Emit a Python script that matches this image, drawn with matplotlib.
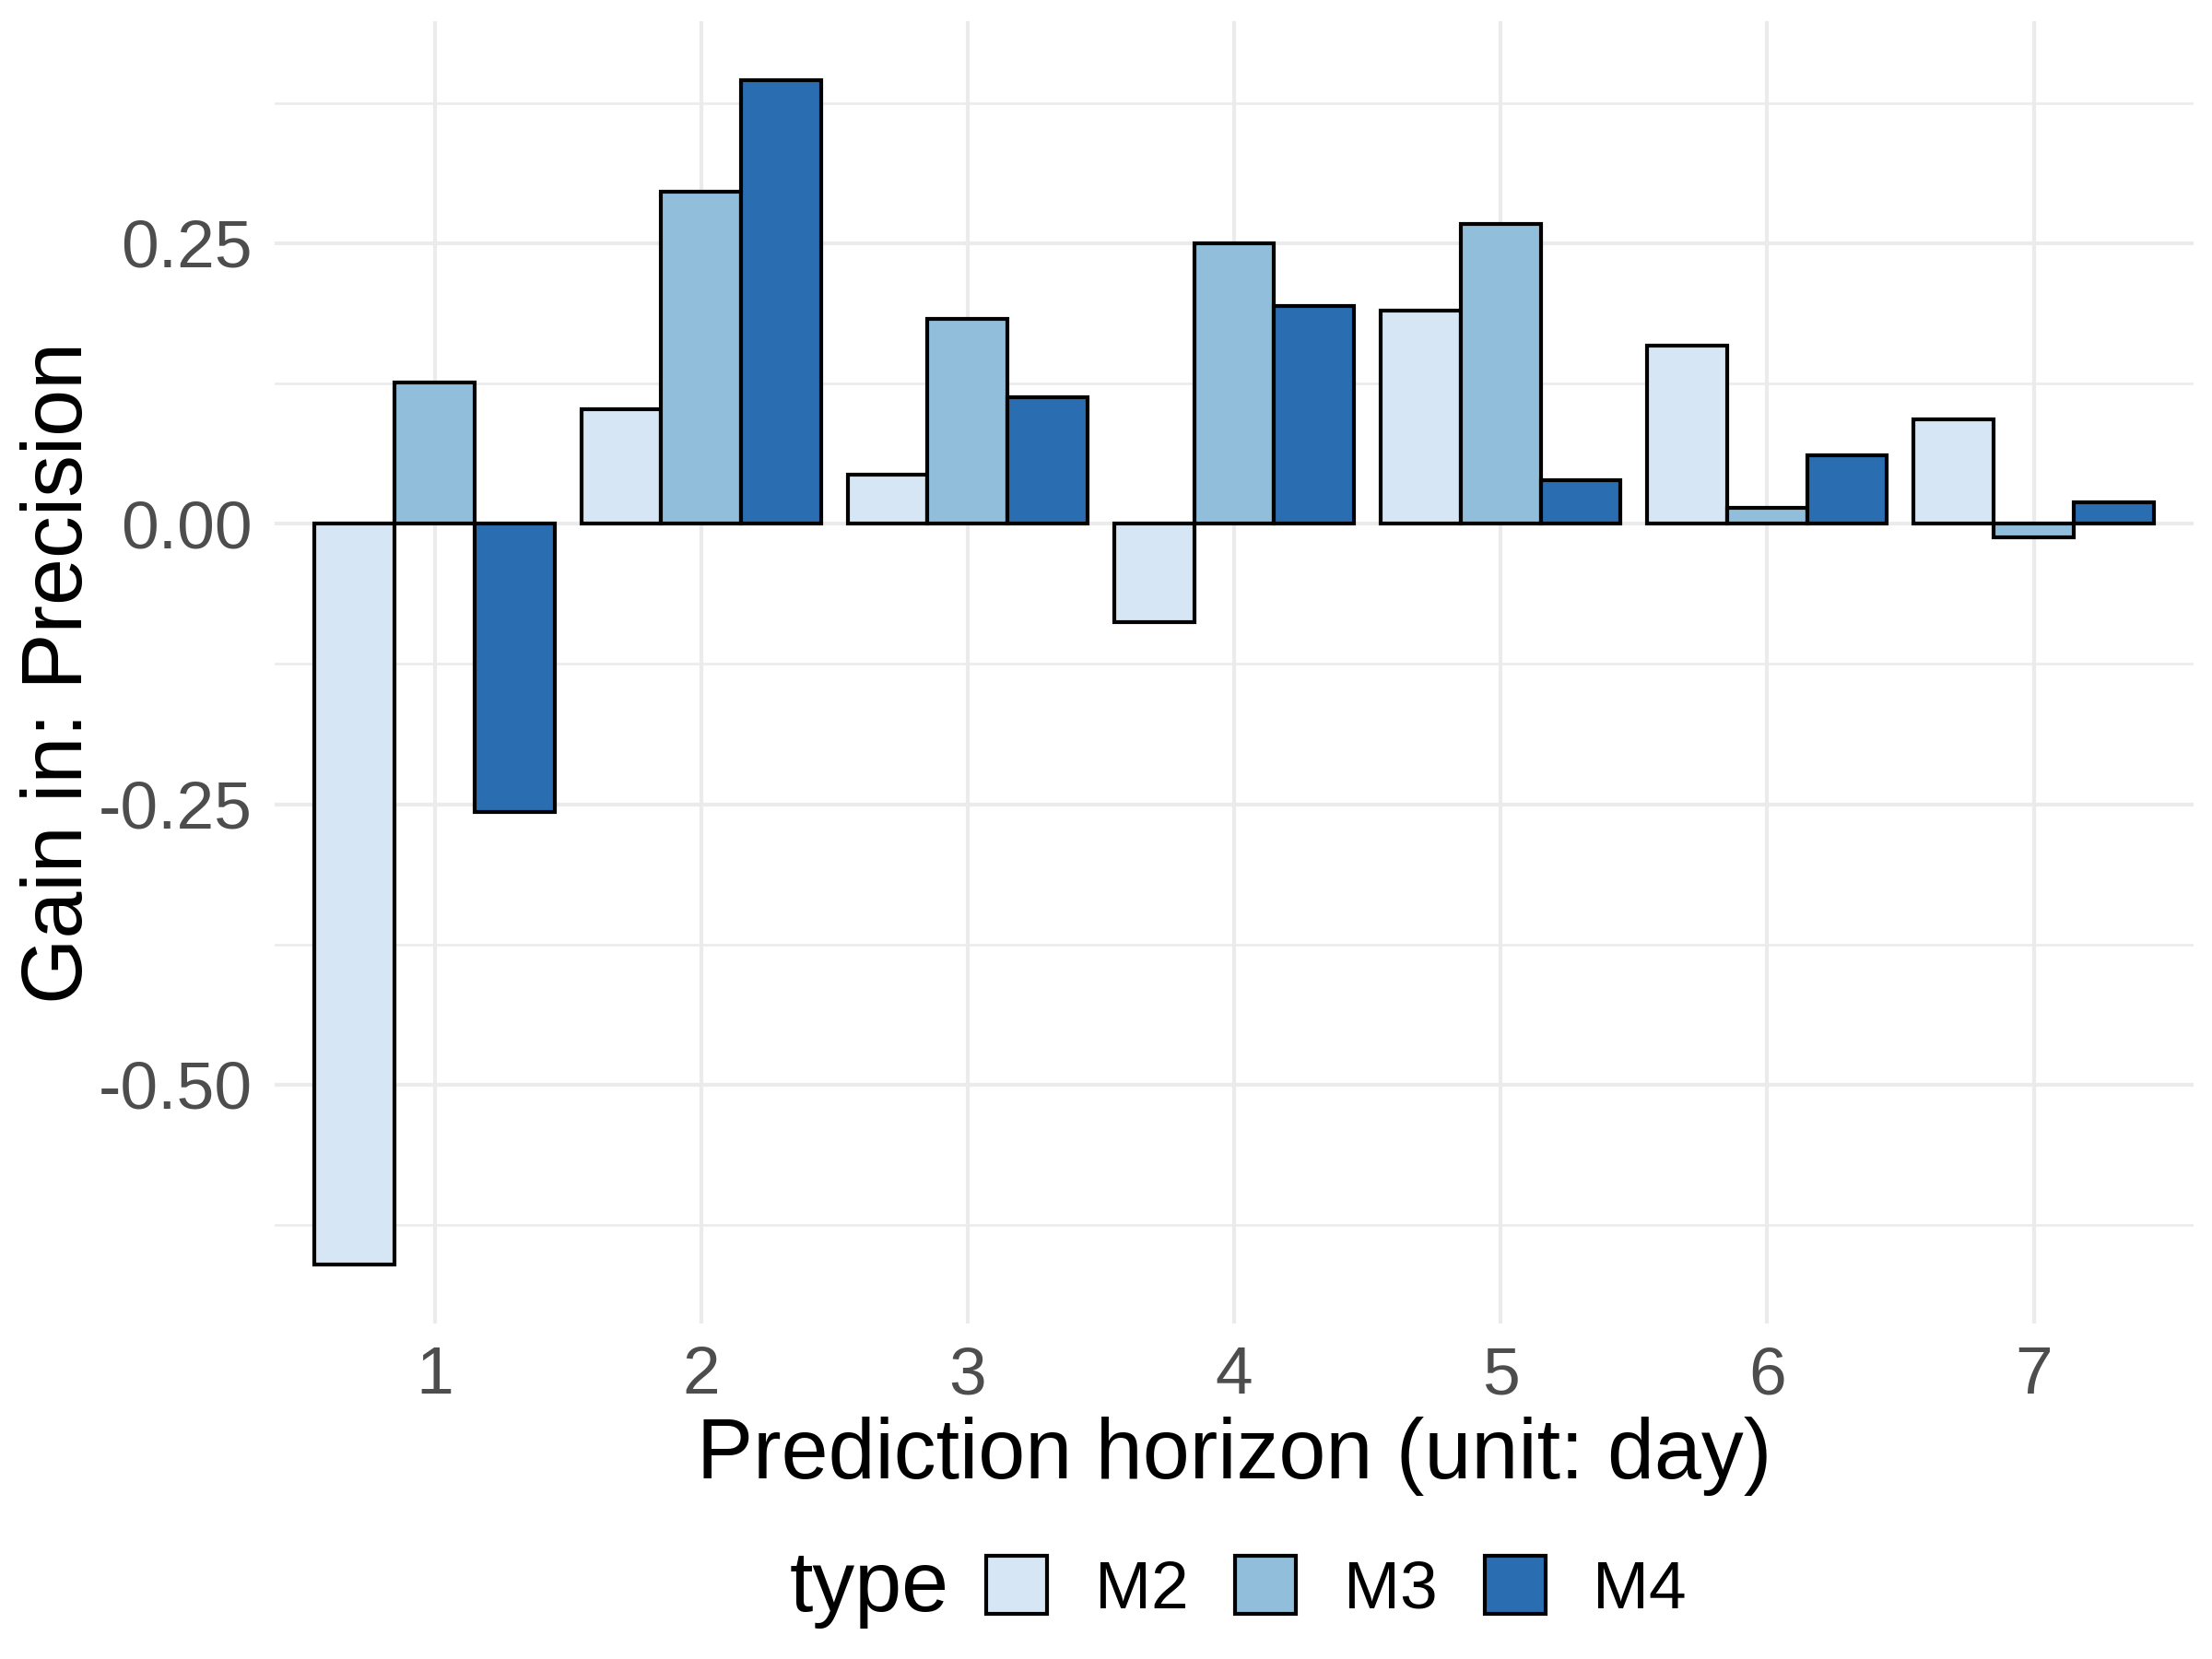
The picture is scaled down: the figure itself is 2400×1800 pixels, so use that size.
import matplotlib
matplotlib.use("Agg")
import matplotlib.pyplot as plt
from matplotlib.patches import Patch
import numpy as np

plt.rcParams['font.family'] = ['Liberation Sans', 'DejaVu Sans']
plt.rcParams['axes.unicode_minus'] = False

# data
horizons = [1, 2, 3, 4, 5, 6, 7]
types = ['M2', 'M3', 'M4']
m2 = [-0.660, 0.102, 0.044, -0.088, 0.190, 0.159, 0.093]
m3 = [0.126, 0.296, 0.1825, 0.250, 0.267, 0.014, -0.012]
m4 = [-0.257, 0.395, 0.1125, 0.194, 0.039, 0.061, 0.019]
y_ticks = [-0.50, -0.25, 0.00, 0.25]
y_minor = [-0.625, -0.375, -0.125, 0.125, 0.375]

colors = ['#D6E6F4', '#91BFDB', '#2A6DB0']
grid_col = '#EBEBEB'

fig = plt.figure(figsize=(8, 6), dpi=300)
W, H = 2400, 1800
left, right, top, bottom = 298, 2380, 23, 1436
ax = fig.add_axes([left / W, 1 - bottom / H, (right - left) / W, (bottom - top) / H])

x = np.arange(len(horizons)) + 1
width = 0.3
for i, (vals, col) in enumerate(zip([m2, m3, m4], colors)):
    ax.bar(x + (i - 1) * width, vals, width=width, color=col,
           edgecolor='black', linewidth=1.0, zorder=3)

# limits like ggplot expansion
allv = np.array(m2 + m3 + m4)
rng = allv.max() - allv.min()
ax.set_ylim(allv.min() - 0.05 * rng, allv.max() + 0.05 * rng)
ax.set_xlim(0.4, 7.6)

ax.set_xticks(x)
ax.set_xticklabels([str(h) for h in horizons])
ax.set_yticks(y_ticks)
ax.set_yticklabels(['%.2f' % v for v in y_ticks])
ax.set_yticks(y_minor, minor=True)
ax.tick_params(axis='both', which='both', length=0, labelsize=17.6,
               labelcolor='#4D4D4D', pad=5.8)

ax.grid(True, which='major', axis='both', color=grid_col, linewidth=1.0, zorder=0)
ax.grid(True, which='minor', axis='y', color=grid_col, linewidth=0.6, zorder=0)
ax.set_axisbelow(True)
for s in ax.spines.values():
    s.set_visible(False)

ax.set_xlabel('Prediction horizon (unit: day)', fontsize=22, va='center')
ax.xaxis.set_label_coords(0.5, (bottom - 1580) / (bottom - top))
ax.set_ylabel('Gain in: Precision', fontsize=22, va='center')
ax.yaxis.set_label_coords((65 - left) / (right - left), 0.5)

# legend at bottom
leg_y = 1 - 1724 / H
fig.text(857 / W, leg_y, 'type', fontsize=22, ha='left', va='center')
handles = [Patch(facecolor=c, edgecolor='black', linewidth=1.0) for c in colors]
fig.legend(handles, types, loc='center', bbox_to_anchor=(1450 / W, leg_y),
           ncol=3, frameon=False, fontsize=17.6, handlelength=0.9, handleheight=0.95,
           handletextpad=0.7, columnspacing=0.7, borderpad=0, borderaxespad=0)

plt.savefig('out.png', dpi=300)
plt.close(fig)
